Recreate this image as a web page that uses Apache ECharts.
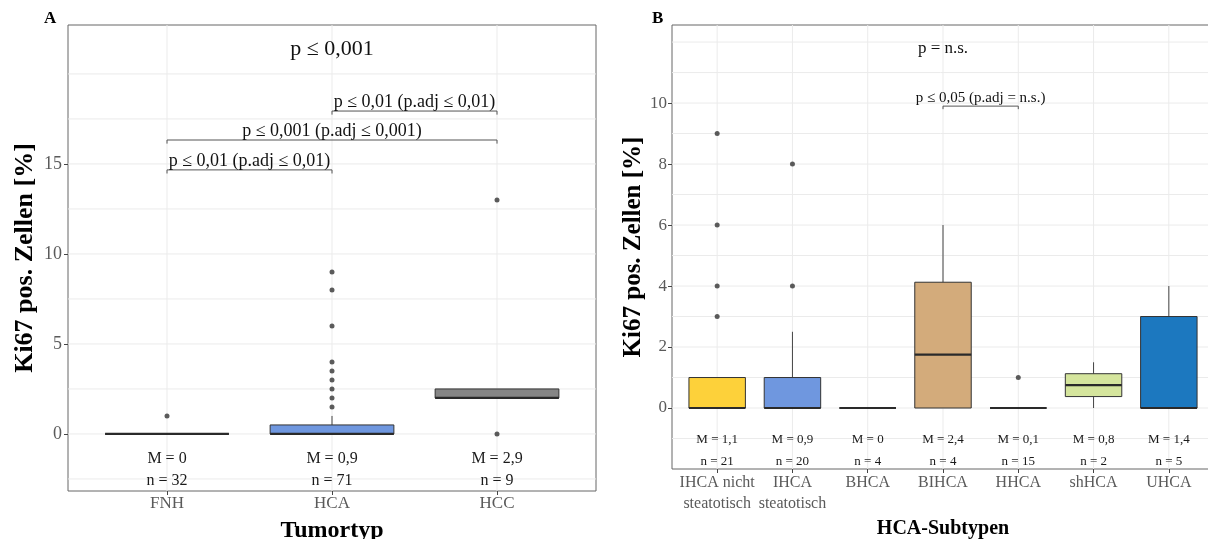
<!DOCTYPE html>
<html>
<head>
<meta charset="utf-8">
<script src="https://cdn.jsdelivr.net/npm/echarts@6/dist/echarts.min.js"></script>
<style>
  html, body { margin: 0; padding: 0; background: #ffffff; }
  #chart { width: 1208px; height: 539px; }
</style>
</head>
<body>
<div id="chart"></div>
<script>
// ---------- Panel A: Ki67 by tumour type ----------
const categoriesA = ['FNH', 'HCA', 'HCC'];
// [lower whisker, Q1, median, Q3, upper whisker]
const boxStatsA = [
  [0, 0, 0, 0, 0],
  [0, 0, 0, 0.5, 1],
  [2, 2, 2, 2.5, 2.5]
];
const outliersA = [
  ['FNH', 1],
  ['HCA', 1.5], ['HCA', 2], ['HCA', 2.5], ['HCA', 3], ['HCA', 3.5], ['HCA', 4],
  ['HCA', 6], ['HCA', 8], ['HCA', 9],
  ['HCC', 13], ['HCC', 0]
];
const meansA = ['0', '0,9', '2,9'];
const countsA = [32, 71, 9];
const yTicksA = [0, 5, 10, 15];
const overallTestA = 'p ≤ 0,001';
const pairTestsA = [
  ['FNH', 'HCA', 'p ≤ 0,01 (p.adj ≤ 0,01)'],
  ['FNH', 'HCC', 'p ≤ 0,001 (p.adj ≤ 0,001)'],
  ['HCA', 'HCC', 'p ≤ 0,01 (p.adj ≤ 0,01)']
];

// ---------- Panel B: Ki67 by HCA subtype ----------
const categoriesB = ['IHCA nicht\nsteatotisch', 'IHCA\nsteatotisch', 'BHCA', 'BIHCA', 'HHCA', 'shHCA', 'UHCA'];
const boxStatsB = [
  [0, 0, 0, 1, 1],
  [0, 0, 0, 1, 2.5],
  [0, 0, 0, 0, 0],
  [0, 0, 1.75, 4.125, 6],
  [0, 0, 0, 0, 0],
  [0, 0.375, 0.75, 1.125, 1.5],
  [0, 0, 0, 3, 4]
];
const outliersB = [
  [0, 3], [0, 4], [0, 6], [0, 9],
  [1, 4], [1, 8],
  [4, 1]
];
const meansB = ['1,1', '0,9', '0', '2,4', '0,1', '0,8', '1,4'];
const countsB = [21, 20, 4, 4, 15, 2, 5];
const yTicksB = [0, 2, 4, 6, 8, 10];
const overallTestB = 'p = n.s.';
const pairTestsB = [
  ['BIHCA', 'HHCA', 'p ≤ 0,05 (p.adj = n.s.)']
];

// ---------- styling & layout ----------
const FONT = "'Liberation Serif', 'Times New Roman', serif";
const TICK_GREY = '#5a5a5a';
const GRID_LINE = '#ebebeb';
const BOX_WIDTH = 0.75;
const fillsA = ['#8c8c8c', '#6f97df', '#868686'];
const fillsB = ['#fdd13a', '#6f97df', '#8a8a8a', '#d3ab7b', '#8a8a8a', '#d5e59d', '#1c78bf'];

const layoutA = {
  xMin: 0.4, xMax: 3.6, yMin: -3.17, yMax: 22.72,
  hLines: [-2.5, 0, 2.5, 5, 7.5, 10, 12.5, 15, 17.5, 20],
  meanY: -1.39, countY: -2.61, overallPos: [2, 21.4],
  bracketLevels: [14.67, 16.33, 17.94], bracketTick: 0.2, bracketTextGap: 0
};
const layoutB = {
  xMin: 0.4, xMax: 7.6, yMin: -2, yMax: 12.56,
  hLines: [-1, 0, 1, 2, 3, 4, 5, 6, 7, 8, 9, 10, 11, 12],
  meanY: -1.02, countY: -1.77, overallPos: [4, 11.8],
  bracketLevels: [9.9], bracketTick: 0.1, bracketTextGap: 1
};

function gridLineSeries(gi, layout, nCat) {
  const data = layout.hLines.map(v => [1, v, 0]);
  for (let i = 1; i <= nCat; i++) data.push([i, 0, 1]);
  return {
    type: 'custom', xAxisIndex: gi, yAxisIndex: gi, z: 1, silent: true,
    data: data, encode: { x: 0, y: 1 },
    renderItem: (params, api) => {
      const cs = params.coordSys;
      const p = api.coord([api.value(0), api.value(1)]);
      if (api.value(2) === 0) {
        return { type: 'line', shape: { x1: cs.x, y1: p[1], x2: cs.x + cs.width, y2: p[1] },
                 style: { stroke: GRID_LINE, lineWidth: 1 } };
      }
      return { type: 'line', shape: { x1: p[0], y1: cs.y, x2: p[0], y2: cs.y + cs.height },
               style: { stroke: GRID_LINE, lineWidth: 1 } };
    }
  };
}

function boxSeries(gi, stats, fills) {
  return {
    type: 'custom', xAxisIndex: gi, yAxisIndex: gi, z: 3, silent: true,
    data: stats.map((s, i) => [i + 1].concat(s)),
    encode: { x: 0, y: [1, 2, 3, 4, 5] },
    renderItem: (params, api) => {
      const x = api.value(0);
      const lo = api.value(1), q1 = api.value(2), med = api.value(3), q3 = api.value(4), hi = api.value(5);
      const half = api.size([BOX_WIDTH, 0])[0] / 2;
      const pQ1 = api.coord([x, q1]), pQ3 = api.coord([x, q3]);
      const pMed = api.coord([x, med]), pLo = api.coord([x, lo]), pHi = api.coord([x, hi]);
      const cx = pQ1[0];
      const children = [];
      const whisker = { stroke: '#454545', lineWidth: 1 };
      if (hi > q3) children.push({ type: 'line', shape: { x1: cx, y1: pQ3[1], x2: cx, y2: pHi[1] }, style: whisker });
      if (lo < q1) children.push({ type: 'line', shape: { x1: cx, y1: pQ1[1], x2: cx, y2: pLo[1] }, style: whisker });
      children.push({ type: 'rect', shape: { x: cx - half, y: pQ3[1], width: 2 * half, height: pQ1[1] - pQ3[1] },
                      style: { fill: fills[params.dataIndex], stroke: '#333333', lineWidth: 1 } });
      children.push({ type: 'line', shape: { x1: cx - half, y1: pMed[1], x2: cx + half, y2: pMed[1] },
                      style: { stroke: '#2a2a2a', lineWidth: 2.2 } });
      return { type: 'group', children: children };
    }
  };
}

function outlierSeries(gi, points, cats) {
  return {
    type: 'scatter', xAxisIndex: gi, yAxisIndex: gi, z: 4, silent: true,
    symbol: 'circle', symbolSize: 5,
    itemStyle: { color: '#333333' },
    data: points.map(p => [typeof p[0] === 'string' ? cats.indexOf(p[0]) + 1 : p[0] + 1, p[1]])
  };
}

function summarySeries(gi, means, counts, layout, fontSize) {
  return {
    type: 'custom', xAxisIndex: gi, yAxisIndex: gi, z: 5, silent: true,
    data: means.map((m, i) => [i + 1, 0]),
    encode: { x: 0, y: 1 },
    renderItem: (params, api) => {
      const i = params.dataIndex;
      const pm = api.coord([api.value(0), layout.meanY]);
      const pn = api.coord([api.value(0), layout.countY]);
      const st = t => ({ text: t, fontFamily: FONT, fontSize: fontSize, fill: '#1a1a1a', align: 'center', verticalAlign: 'middle' });
      return { type: 'group', children: [
        { type: 'text', x: pm[0], y: pm[1], style: st('M = ' + means[i]) },
        { type: 'text', x: pn[0], y: pn[1], style: st('n = ' + counts[i]) }
      ] };
    }
  };
}

function testSeries(gi, cats, overall, pairs, layout, overallSize, pairSize) {
  const data = [[layout.overallPos[0], layout.overallPos[1], -1]];
  pairs.forEach((p, k) => data.push([cats.indexOf(p[0]) + 1, layout.bracketLevels[k], k]));
  return {
    type: 'custom', xAxisIndex: gi, yAxisIndex: gi, z: 5, silent: true,
    data: data, encode: { x: 0, y: 1 },
    renderItem: (params, api) => {
      const k = api.value(2);
      if (k < 0) {
        const p = api.coord([api.value(0), api.value(1)]);
        return { type: 'text', x: p[0], y: p[1],
                 style: { text: overall, fontFamily: FONT, fontSize: overallSize, fill: '#111', align: 'center', verticalAlign: 'middle' } };
      }
      const pair = pairs[k];
      const level = api.value(1);
      const x1 = cats.indexOf(pair[0]) + 1, x2 = cats.indexOf(pair[1]) + 1;
      const a = api.coord([x1, level]), b = api.coord([x2, level]);
      const tickY = api.coord([x1, level - layout.bracketTick])[1];
      return { type: 'group', children: [
        { type: 'polyline', shape: { points: [[a[0], tickY], [a[0], a[1]], [b[0], b[1]], [b[0], tickY]] },
          style: { stroke: '#555555', lineWidth: 1, fill: null } },
        { type: 'text', x: (a[0] + b[0]) / 2, y: a[1] - layout.bracketTextGap,
          style: { text: pair[2], fontFamily: FONT, fontSize: pairSize, fill: '#111', align: 'center', verticalAlign: 'bottom' } }
      ] };
    }
  };
}

function xAxisCfg(gi, cats, layout, opts) {
  const ticks = cats.map((c, i) => i + 1);
  return {
    gridIndex: gi, type: 'value', min: layout.xMin, max: layout.xMax,
    axisLine: { show: false, onZero: false },
    axisTick: { show: true, customValues: ticks, length: 4, lineStyle: { color: '#444' } },
    splitLine: { show: false },
    axisLabel: { customValues: ticks, formatter: v => cats[Math.round(v) - 1], color: TICK_GREY,
                 fontFamily: FONT, fontSize: opts.labelSize, lineHeight: opts.lineHeight, margin: opts.margin },
    name: opts.name, nameLocation: 'middle', nameGap: opts.nameGap,
    nameTextStyle: { fontFamily: FONT, fontWeight: 'bold', fontSize: opts.nameSize, color: '#000' }
  };
}

function yAxisCfg(gi, ticks, layout, opts) {
  return {
    gridIndex: gi, type: 'value', min: layout.yMin, max: layout.yMax,
    axisLine: { show: false, onZero: false },
    axisTick: { show: true, customValues: ticks, length: 4, lineStyle: { color: '#444' } },
    splitLine: { show: false },
    axisLabel: { customValues: ticks, color: TICK_GREY, fontFamily: FONT, fontSize: opts.labelSize, margin: opts.margin },
    name: 'Ki67 pos. Zellen [%]', nameLocation: 'middle', nameGap: opts.nameGap,
    nameTextStyle: { fontFamily: FONT, fontWeight: 'bold', fontSize: opts.nameSize, color: '#000' }
  };
}

const chart = echarts.init(document.getElementById('chart'), null, { renderer: 'canvas' });
chart.setOption({
  animation: false,
  backgroundColor: '#ffffff',
  title: [
    { text: 'A', left: 44, top: 10, padding: 0, textStyle: { fontFamily: FONT, fontWeight: 'bold', fontSize: 17, color: '#000' } },
    { text: 'B', left: 652, top: 10, padding: 0, textStyle: { fontFamily: FONT, fontWeight: 'bold', fontSize: 17, color: '#000' } }
  ],
  grid: [
    { left: 68, top: 25, width: 528, height: 466, show: true, borderColor: '#666', borderWidth: 1,
      backgroundColor: '#fff', containLabel: false, outerBoundsMode: 'none' },
    { left: 672, top: 25, width: 542, height: 444, show: true, borderColor: '#666', borderWidth: 1,
      backgroundColor: '#fff', containLabel: false, outerBoundsMode: 'none' }
  ],
  xAxis: [
    xAxisCfg(0, categoriesA, layoutA, { labelSize: 17, lineHeight: 20, margin: 3, name: 'Tumortyp', nameGap: 22, nameSize: 24 }),
    xAxisCfg(1, categoriesB, layoutB, { labelSize: 16, lineHeight: 21, margin: 3, name: 'HCA-Subtypen', nameGap: 48, nameSize: 20 })
  ],
  yAxis: [
    yAxisCfg(0, yTicksA, layoutA, { labelSize: 18, margin: 6, nameGap: 30, nameSize: 26 }),
    yAxisCfg(1, yTicksB, layoutB, { labelSize: 17, margin: 5, nameGap: 22, nameSize: 25 })
  ],
  series: [
    gridLineSeries(0, layoutA, categoriesA.length),
    boxSeries(0, boxStatsA, fillsA),
    outlierSeries(0, outliersA, categoriesA),
    summarySeries(0, meansA, countsA, layoutA, 16),
    testSeries(0, categoriesA, overallTestA, pairTestsA, layoutA, 22, 18),
    gridLineSeries(1, layoutB, categoriesB.length),
    boxSeries(1, boxStatsB, fillsB),
    outlierSeries(1, outliersB, categoriesB),
    summarySeries(1, meansB, countsB, layoutB, 13),
    testSeries(1, categoriesB.map(c => c.replace('\n', ' ')), overallTestB, pairTestsB, layoutB, 17, 15)
  ]
});
</script>
</body>
</html>
